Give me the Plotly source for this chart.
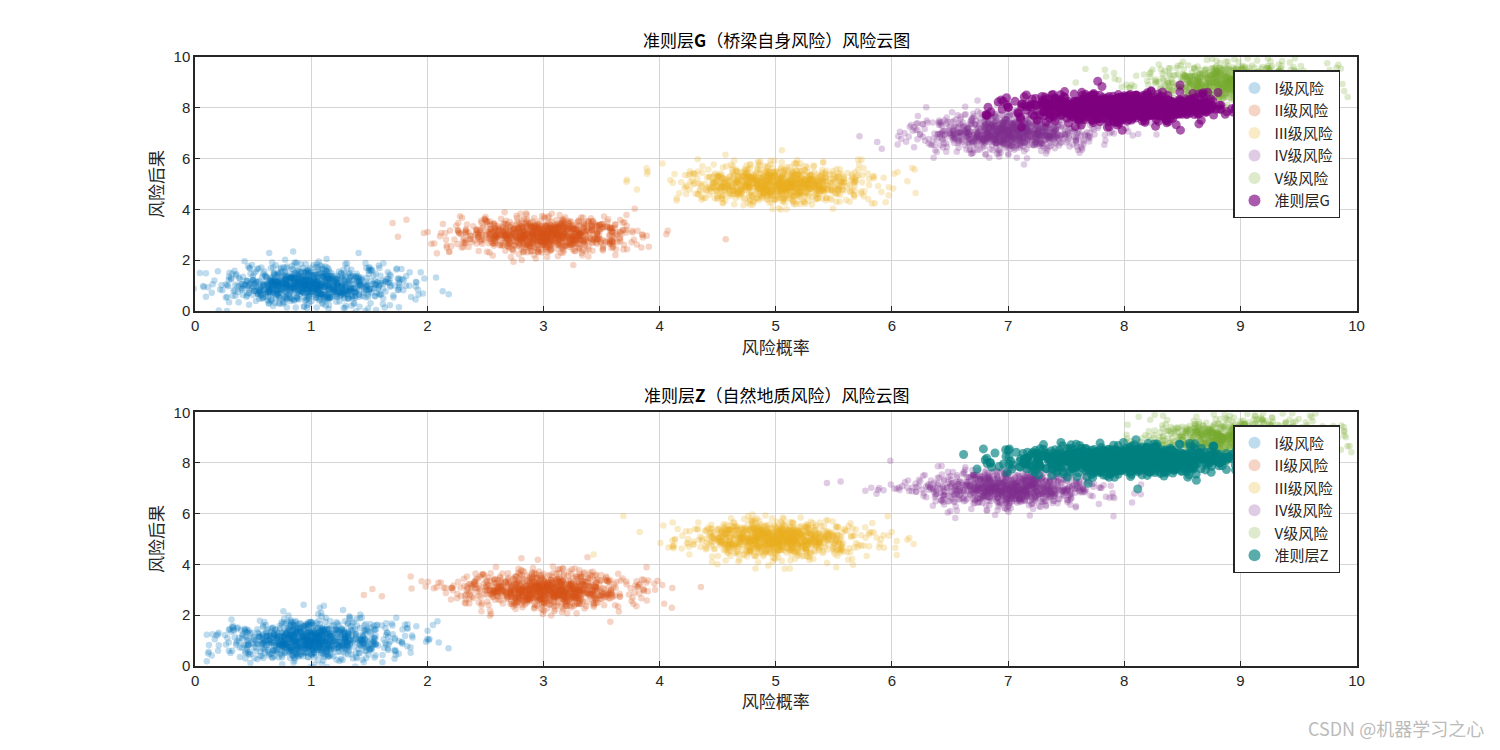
import numpy as np
import plotly.graph_objects as go

# 云模型参数 (Ex, En, He)
levels = ["I级风险", "II级风险", "III级风险", "IV级风险", "V级风险"]
ex_x = [1, 3, 5, 7, 9]
en_x = [0.36, 0.36, 0.36, 0.36, 0.36]
he_x = [0.07, 0.07, 0.07, 0.07, 0.07]
ex_y = [1, 3, 5, 7, 9]
en_y = [0.38, 0.35, 0.35, 0.35, 0.35]
he_y = [0.06, 0.05, 0.05, 0.05, 0.05]
level_colors = ["#0072BD", "#D95319", "#EDB120", "#7E2F8E", "#77AC30"]
n_drops = 1000

crit_names = ["准则层G", "准则层Z"]
crit_ex_x = [8.0, 8.0]
crit_en_x = [0.42, 0.45]
crit_he_x = [0.05, 0.05]
crit_ex_y = [8.0, 8.1]
crit_en_y = [0.25, 0.27]
crit_he_y = [0.03, 0.03]
crit_colors = ["#7E0080", "#008080"]
titles = ["准则层<b>G</b>（桥梁自身风险）风险云图", "准则层<b>Z</b>（自然地质风险）风险云图"]

rng = np.random.default_rng(7)


def cloud(ex, en, he, n):
    en2 = rng.normal(en, he, n)
    return ex + np.abs(en2) * rng.standard_normal(n)


fig = go.Figure()
font = "Noto Sans CJK SC, Arial"
for k in range(2):
    xa = "x" if k == 0 else "x2"
    ya = "y" if k == 0 else "y2"
    lg = "legend" if k == 0 else "legend2"
    for i, name in enumerate(levels):
        x = cloud(ex_x[i], en_x[i], he_x[i], n_drops)
        y = cloud(ex_y[i], en_y[i], he_y[i], n_drops)
        fig.add_trace(go.Scatter(x=x, y=y, mode="markers", name=name, xaxis=xa, yaxis=ya,
                                 legend=lg,
                                 marker=dict(size=6.5, color=level_colors[i], opacity=0.25, line_width=0)))
    x = cloud(crit_ex_x[k], crit_en_x[k], crit_he_x[k], n_drops)
    y = cloud(crit_ex_y[k], crit_en_y[k], crit_he_y[k], n_drops)
    fig.add_trace(go.Scatter(x=x, y=y, mode="markers", name=crit_names[k], xaxis=xa, yaxis=ya,
                             legend=lg,
                             marker=dict(size=9, color=crit_colors[k], opacity=0.65, line_width=0)))

axis_common = dict(showgrid=True, gridcolor="#D5D5D5", gridwidth=1.2, zeroline=False,
                   showline=True, linecolor="#262626", linewidth=1.5, mirror=True,
                   ticks="inside", ticklen=5, tickcolor="#262626", automargin=False,
                   tickfont=dict(size=15, color="#262626", family="Arial"))
xlab = dict(text="风险概率", font=dict(size=17, family=font, color="#262626"), standoff=4)
ylab = dict(text="风险后果", font=dict(size=17, family=font, color="#262626"), standoff=6)

legend_common = dict(x=0.888, xanchor="right", bgcolor="white", bordercolor="#262626", borderwidth=1.5,
                     font=dict(size=15, family=font, color="#262626"), itemsizing="constant",
                     tracegroupgap=0)

fig.update_layout(
    width=1500, height=750, plot_bgcolor="white", paper_bgcolor="white",
    margin=dict(l=0, r=0, t=0, b=0),
    xaxis=dict(domain=[0.1247, 0.899], range=[0, 10], dtick=1, anchor="y", title=xlab, **axis_common),
    yaxis=dict(domain=[0.596, 0.935], range=[0, 10], dtick=2, anchor="x", title=ylab, **axis_common),
    xaxis2=dict(domain=[0.1247, 0.899], range=[0, 10], dtick=1, anchor="y2", title=xlab, **axis_common),
    yaxis2=dict(domain=[0.123, 0.461], range=[0, 10], dtick=2, anchor="x2", title=ylab, **axis_common),
    legend=dict(y=0.917, yanchor="top", **legend_common),
    legend2=dict(y=0.444, yanchor="top", **legend_common),
    annotations=[
        dict(text=titles[0], x=0.512, y=0.939, xref="paper", yref="paper", yanchor="bottom",
             showarrow=False, font=dict(size=17, family=font, color="black")),
        dict(text=titles[1], x=0.512, y=0.466, xref="paper", yref="paper", yanchor="bottom",
             showarrow=False, font=dict(size=17, family=font, color="black")),
        dict(text="CSDN @机器学习之心", x=0.985, y=0.02, xref="paper", yref="paper",
             xanchor="right", yanchor="bottom", showarrow=False,
             font=dict(size=18, family=font, color="#BBBBBB")),
    ],
)

fig.write_html("out.html")
